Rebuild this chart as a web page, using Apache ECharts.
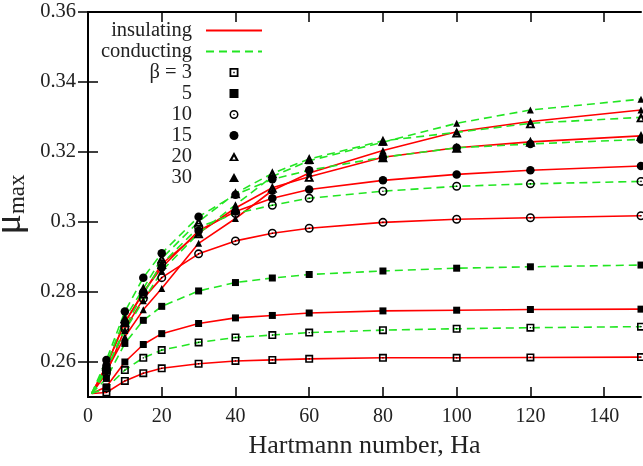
<!DOCTYPE html>
<html>
<head>
<meta charset="utf-8">
<script src="https://cdn.jsdelivr.net/npm/echarts@6/dist/echarts.min.js"></script>
<style>
  html, body { margin: 0; padding: 0; background: #fff; }
  #chart { width: 643px; height: 466px; }
</style>
</head>
<body>
<div id="chart"></div>
<script>
// Hartmann numbers at which mu_max was computed (first point is where all curves start)
const ha = [1, 5, 10, 15, 20, 30, 40, 50, 60, 80, 100, 120, 150];

// Tick values
const xTicks = [0, 20, 40, 60, 80, 100, 120, 140];
const yTicks = [0.26, 0.28, 0.30, 0.32, 0.34, 0.36];

// Wall-to-fluid conductivity ratio labels
const betas = ['β = 3', '5', '10', '15', '20', '30'];

// mu_max, insulating walls
const ins3  = [0.2510, 0.2513, 0.2546, 0.2568, 0.2582, 0.2595, 0.2603, 0.2606, 0.2609, 0.2612, 0.2612, 0.2613, 0.2614];
const ins5  = [0.2510, 0.2529, 0.2600, 0.2650, 0.2681, 0.2710, 0.2726, 0.2733, 0.2740, 0.2746, 0.2748, 0.2750, 0.2751];
const ins10 = [0.2510, 0.2568, 0.2694, 0.2781, 0.2841, 0.2909, 0.2946, 0.2968, 0.2982, 0.2999, 0.3008, 0.3012, 0.3018];
const ins15 = [0.2510, 0.2590, 0.2712, 0.2800, 0.2870, 0.2975, 0.3030, 0.3068, 0.3093, 0.3119, 0.3136, 0.3148, 0.3160];
const ins20 = [0.2510, 0.2590, 0.2715, 0.2796, 0.2880, 0.2968, 0.3040, 0.3098, 0.3129, 0.3185, 0.3212, 0.3229, 0.3246];
const ins30 = [0.2510, 0.2575, 0.2672, 0.2749, 0.2810, 0.2939, 0.3010, 0.3090, 0.3140, 0.3204, 0.3258, 0.3287, 0.3320];

// mu_max, conducting walls
const cond3  = [0.2510, 0.2526, 0.2577, 0.2612, 0.2634, 0.2656, 0.2670, 0.2677, 0.2684, 0.2691, 0.2695, 0.2698, 0.2701];
const cond5  = [0.2510, 0.2553, 0.2653, 0.2719, 0.2759, 0.2803, 0.2827, 0.2840, 0.2850, 0.2860, 0.2868, 0.2872, 0.2877];
const cond10 = [0.2510, 0.2575, 0.2700, 0.2795, 0.2880, 0.2985, 0.3024, 0.3048, 0.3068, 0.3088, 0.3102, 0.3109, 0.3116];
const cond15 = [0.2510, 0.2606, 0.2744, 0.2841, 0.2911, 0.3015, 0.3078, 0.3122, 0.3148, 0.3185, 0.3212, 0.3223, 0.3236];
const cond20 = [0.2510, 0.2595, 0.2725, 0.2810, 0.2896, 0.3001, 0.3082, 0.3139, 0.3180, 0.3232, 0.3256, 0.3282, 0.3299];
const cond30 = [0.2510, 0.2580, 0.2690, 0.2775, 0.2860, 0.2968, 0.3049, 0.3130, 0.3175, 0.3228, 0.3282, 0.3320, 0.3351];

const insulating = [ins3, ins5, ins10, ins15, ins20, ins30];
const conducting = [cond3, cond5, cond10, cond15, cond20, cond30];

// gnuplot-like point types
const openSquare = 'path://M0 0L10 0L10 10L0 10ZM2 2L2 8L8 8L8 2ZM4.2 4.2L5.8 4.2L5.8 5.8L4.2 5.8Z';
const fullSquare = 'path://M0 0L10 0L10 10L0 10Z';
const openCircle = 'path://M5 0A5 5 0 1 1 5 10A5 5 0 1 1 5 0ZM5 1.7A3.3 3.3 0 1 0 5 8.3A3.3 3.3 0 1 0 5 1.7ZM5 4.1A0.9 0.9 0 1 1 5 5.9A0.9 0.9 0 1 1 5 4.1Z';
const openTriangle = 'path://M5 0L10 9L0 9ZM5 4.4L3.3 7.4L6.7 7.4Z';
const fullTriangle = 'path://M5 0L10 9L0 9Z';
const markers = [
  { symbol: openSquare, size: 8 },
  { symbol: fullSquare, size: 7 },
  { symbol: openCircle, size: 9 },
  { symbol: 'circle', size: 8.5 },
  { symbol: openTriangle, size: 10 },
  { symbol: fullTriangle, size: 7 }
];

const serif = 'Liberation Serif';
const INK = '#222';
const RED = '#ff0000';
const GREEN = '#22e622';

const pairs = arr => ha.map((h, i) => [h, arr[i]]);

const series = [];
insulating.forEach(arr => series.push({
  name: 'insulating', type: 'line', data: pairs(arr),
  symbol: 'none', smooth: false, z: 2,
  lineStyle: { color: RED, width: 1.6 }, itemStyle: { color: RED }
}));
conducting.forEach(arr => series.push({
  name: 'conducting', type: 'line', data: pairs(arr),
  symbol: 'none', smooth: false, z: 2,
  lineStyle: { color: GREEN, width: 1.6, type: [8, 5] }, itemStyle: { color: GREEN }
}));
betas.forEach((b, k) => {
  const pts = [];
  for (let i = 1; i < ha.length; i++) {
    pts.push([ha[i], insulating[k][i]]);
    pts.push([ha[i], conducting[k][i]]);
  }
  series.push({
    name: b, type: 'scatter', data: pts, z: 3,
    symbol: markers[k].symbol, symbolSize: markers[k].size,
    itemStyle: { color: '#000', opacity: 1 }
  });
});

const axisLine = { lineStyle: { color: '#000', width: 2 } };
const tickStyle = { color: '#000', width: 1.5 };
const hiddenMark = { opacity: 0, color: 'rgba(0,0,0,0)', borderWidth: 0 };

const option = {
  animation: false,
  backgroundColor: '#fff',
  grid: { left: 88, right: 2, top: 12, bottom: 69, outerBoundsMode: 'none', containLabel: false },
  legend: {
    orient: 'vertical', align: 'right',
    right: 380, top: 20, padding: 0,
    itemWidth: 56, itemHeight: 9, itemGap: 0,
    selectedMode: false,
    textStyle: { fontFamily: serif, fontSize: 20.5, color: INK, padding: [0, 9, 0, 0] },
    data: [
      { name: 'insulating', itemStyle: hiddenMark },
      { name: 'conducting', itemStyle: hiddenMark }
    ].concat(betas)
  },
  xAxis: [
    {
      type: 'value', min: 0, max: 150, position: 'bottom',
      axisLine: axisLine,
      axisTick: { inside: true, length: 10, customValues: xTicks, lineStyle: tickStyle },
      axisLabel: { customValues: xTicks, fontFamily: serif, fontSize: 20, color: INK, margin: 10 },
      splitLine: { show: false },
      name: 'Hartmann number, Ha', nameLocation: 'middle', nameGap: 36,
      nameTextStyle: { fontFamily: serif, fontSize: 26, color: INK }
    },
    {
      type: 'value', min: 0, max: 150, position: 'top',
      axisLine: axisLine,
      axisTick: { inside: true, length: 10, customValues: xTicks, lineStyle: tickStyle },
      axisLabel: { show: false }, splitLine: { show: false }
    }
  ],
  yAxis: [
    {
      type: 'value', min: 0.25, max: 0.36, position: 'left',
      axisLine: axisLine,
      axisTick: { inside: true, length: 10, customValues: yTicks, lineStyle: tickStyle },
      axisLabel: {
        customValues: yTicks, fontFamily: serif, fontSize: 20.5, color: INK, margin: 12,
        formatter: v => String(parseFloat(v.toFixed(2)))
      },
      splitLine: { show: false },
      name: '{mu|μ}{sub|max}', nameLocation: 'middle', nameRotate: 90, nameGap: 56,
      nameTextStyle: {
        color: INK,
        rich: {
          mu: { fontFamily: serif, fontSize: 38, lineHeight: 38, verticalAlign: 'middle', color: INK },
          sub: { fontFamily: serif, fontSize: 23, lineHeight: 23, padding: [18, 0, 0, 0], verticalAlign: 'bottom', color: INK }
        }
      }
    },
    {
      type: 'value', min: 0.25, max: 0.36, position: 'right',
      axisLine: axisLine,
      axisTick: { inside: true, length: 10, customValues: yTicks, lineStyle: tickStyle },
      axisLabel: { show: false }, splitLine: { show: false }
    }
  ],
  series: series
};

const chart = echarts.init(document.getElementById('chart'), null, { renderer: 'canvas' });
chart.setOption(option);
</script>
</body>
</html>
